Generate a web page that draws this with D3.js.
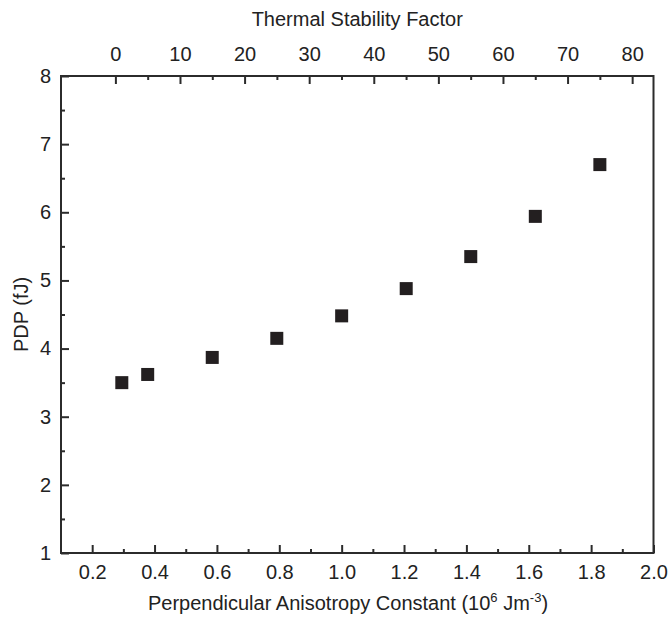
<!DOCTYPE html>
<html>
<head>
<meta charset="utf-8">
<script src="https://cdn.jsdelivr.net/npm/d3@7"></script>
<style>
  body { margin: 0; background: #fff; }
  svg { display: block; }
  text { font-family: "Liberation Sans", Arial, sans-serif; fill: #222; }
</style>
</head>
<body>
<svg id="chart" width="670" height="618"></svg>
<script>
// data
const thermalFactor = [1, 5, 15, 25, 35, 45, 55, 65, 75];
const anisotropy = [0.295, 0.378, 0.585, 0.792, 1.0, 1.207, 1.414, 1.621, 1.828];
const pdp = [3.50, 3.62, 3.87, 4.15, 4.48, 4.88, 5.35, 5.94, 6.70];

const xTicks = [0.2, 0.4, 0.6, 0.8, 1.0, 1.2, 1.4, 1.6, 1.8, 2.0];
const xMinor = [0.3, 0.5, 0.7, 0.9, 1.1, 1.3, 1.5, 1.7, 1.9];
const topTicks = [0, 10, 20, 30, 40, 50, 60, 70, 80];
const topMinor = [5, 15, 25, 35, 45, 55, 65, 75];
const yTicks = [1, 2, 3, 4, 5, 6, 7, 8];
const yMinor = [1.5, 2.5, 3.5, 4.5, 5.5, 6.5, 7.5];

const svg = d3.select('#chart');
const mLeft = 61, mRight = 653.5, mTop = 76, mBottom = 553;

const x = d3.scaleLinear().domain([0.1, 2.0]).range([mLeft, mRight]);
const y = d3.scaleLinear().domain([1, 8]).range([mBottom, mTop]);

// top axis: thermal stability factor is linear in K (K = k0 + slope * delta)
const slope = (anisotropy[8] - anisotropy[1]) / (thermalFactor[8] - thermalFactor[1]);
const k0 = anisotropy[1] - slope * thermalFactor[1];
const xTop = d3.scaleLinear()
  .domain([(0.1 - k0) / slope, (2.0 - k0) / slope])
  .range([mLeft, mRight]);

const fontSize = 20;
const axisColor = '#2b2b2b';

function drawAxis(makeAxis, scale, transform, majors, minors, fmt, pad) {
  const g = svg.append('g').attr('transform', transform);
  g.call(makeAxis(scale).tickValues(majors).tickSizeInner(-8).tickSizeOuter(0)
    .tickPadding(pad).tickFormat(fmt));
  g.select('.domain').remove();
  g.selectAll('.tick line').attr('stroke', axisColor).attr('stroke-width', 2);
  g.selectAll('.tick text').style('font-size', fontSize + 'px').attr('fill', '#222');

  const m = svg.append('g').attr('transform', transform);
  m.call(makeAxis(scale).tickValues(minors).tickSizeInner(-4).tickSizeOuter(0).tickFormat(''));
  m.select('.domain').remove();
  m.selectAll('.tick line').attr('stroke', axisColor).attr('stroke-width', 2);
}

drawAxis(d3.axisBottom, x, `translate(0,${mBottom})`, xTicks, xMinor, d3.format('.1f'), 12);
drawAxis(d3.axisTop, xTop, `translate(0,${mTop})`, topTicks, topMinor, d3.format('d'), 15);
drawAxis(d3.axisLeft, y, `translate(${mLeft},0)`, yTicks, yMinor, d3.format('d'), 10);

// frame
svg.append('rect')
  .attr('x', mLeft).attr('y', mTop)
  .attr('width', mRight - mLeft).attr('height', mBottom - mTop)
  .attr('fill', 'none').attr('stroke', axisColor).attr('stroke-width', 2);

// points
const size = 13;
svg.append('g').selectAll('rect')
  .data(anisotropy.map((k, i) => ({ k, v: pdp[i] })))
  .join('rect')
  .attr('x', d => x(d.k) - size / 2)
  .attr('y', d => y(d.v) - size / 2)
  .attr('width', size).attr('height', size)
  .attr('fill', '#231f20');

// titles
svg.append('text')
  .attr('x', (mLeft + mRight) / 2).attr('y', 26)
  .attr('text-anchor', 'middle').style('font-size', fontSize + 'px')
  .text('Thermal Stability Factor');

const xt = svg.append('text')
  .attr('x', 348).attr('y', 610)
  .attr('text-anchor', 'middle').style('font-size', fontSize + 'px');
xt.append('tspan').text('Perpendicular Anisotropy Constant (10');
xt.append('tspan').attr('dy', -8).style('font-size', '13px').text('6');
xt.append('tspan').attr('dy', 8).text(' Jm');
xt.append('tspan').attr('dy', -8).style('font-size', '13px').text('-3');
xt.append('tspan').attr('dy', 8).text(')');

svg.append('text')
  .attr('transform', `translate(28,${(mTop + mBottom) / 2}) rotate(-90)`)
  .attr('text-anchor', 'middle').style('font-size', fontSize + 'px')
  .text('PDP (fJ)');
</script>
</body>
</html>
